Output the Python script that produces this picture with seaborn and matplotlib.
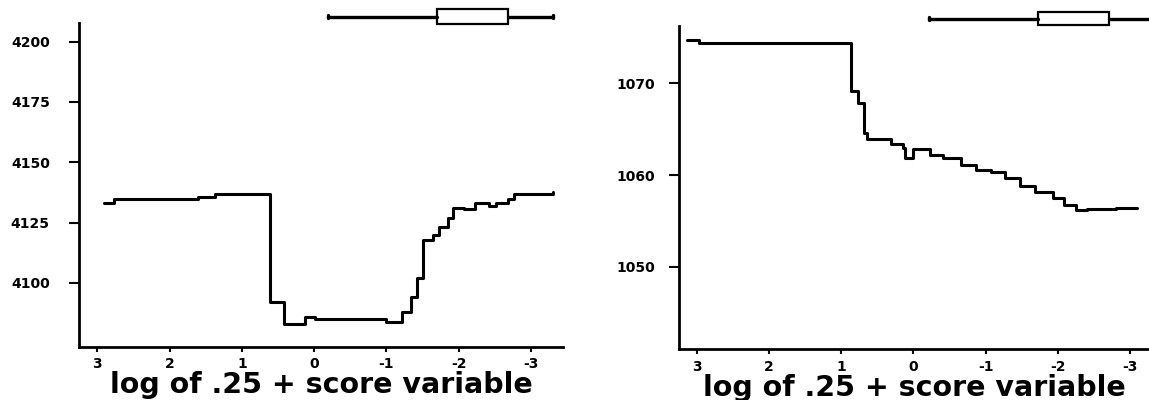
import numpy as np
import pandas as pd
import matplotlib
matplotlib.use("Agg")
import matplotlib.pyplot as plt
import seaborn as sns

# values
# left panel: step curve, x = where each level starts (axis runs 3 -> -3)
left_x = [2.91, 2.77, 1.60, 1.37, 0.61, 0.42, 0.12, -0.01, -1.00, -1.22, -1.34, -1.42,
          -1.50, -1.65, -1.73, -1.85, -1.92, -2.08, -2.22, -2.42, -2.52, -2.68, -2.77, -3.30]
left_y = [4133, 4135, 4135.5, 4137, 4092, 4083, 4086, 4085, 4084, 4088, 4094, 4102,
          4118, 4120, 4123, 4127, 4131, 4130.5, 4133, 4132, 4133, 4135, 4137, 4137.5]
# right panel
right_x = [3.14, 2.97, 0.87, 0.77, 0.69, 0.64, 0.31, 0.15, 0.12, 0.00, -0.23, -0.41,
           -0.66, -0.87, -1.07, -1.27, -1.48, -1.68, -1.94, -2.09, -2.25, -2.40, -2.81, -3.09]
right_y = [1074.7, 1074.4, 1069.2, 1067.9, 1064.6, 1063.9, 1063.4, 1063.0, 1061.9, 1062.8,
           1062.2, 1061.9, 1061.1, 1060.6, 1060.3, 1059.7, 1058.8, 1058.1, 1057.5, 1056.7,
           1056.2, 1056.3, 1056.4, 1056.4]

# boxplot of the score variable on top: whislo, q1, med, q3, whishi
left_box = [-3.31, -2.68, -2.20, -1.70, -0.19]
right_box = [-3.30, -2.71, -2.20, -1.73, -0.21]

x_ticks = [3, 2, 1, 0, -1, -2, -3]
x_tick_labels = ["3", "2", "1", "0", "-1", "-2", "-3"]
left_y_ticks = [4100, 4125, 4150, 4175, 4200]
right_y_ticks = [1050, 1060, 1070]
x_label = "log of .25 + score variable"

sns.set_style("ticks")
plt.rcParams["font.family"] = ["DejaVu Sans"]
plt.rcParams["axes.unicode_minus"] = False
plt.rcParams["text.color"] = "black"
plt.rcParams["axes.labelcolor"] = "black"
plt.rcParams["xtick.color"] = "black"
plt.rcParams["ytick.color"] = "black"

W, H = 1149, 400
fig = plt.figure(figsize=(W / 100, H / 100), dpi=100)


def px_rect(x0, x1, ytop, ybot):
    return [x0 / W, (H - ybot) / H, (x1 - x0) / W, (ybot - ytop) / H]


def panel(rect, box_rect, xs, ys, box, yticks, xlim, ylim, ypad, box_w):
    ax = fig.add_axes(rect)
    sns.lineplot(x=xs, y=ys, ax=ax, color="black", linewidth=2.2,
                 drawstyle="steps-post", sort=False, estimator=None)
    ax.set_xlim(*xlim)
    ax.set_ylim(*ylim)
    ax.set_xticks(x_ticks)
    ax.set_xticklabels(x_tick_labels, fontsize=10, fontweight="bold")
    ax.set_yticks(yticks)
    ax.set_yticklabels([str(t) for t in yticks], fontsize=10, fontweight="bold")
    ax.tick_params(axis="y", length=7, width=1.5, pad=ypad, colors="black")
    ax.tick_params(axis="x", length=3.6, width=1.5, pad=4, colors="black")
    ax.set_xlabel(x_label, fontsize=20.5, fontweight="bold", labelpad=0, color="black")
    ax.set_ylabel("")
    sns.despine(ax=ax)
    for s in ["left", "bottom"]:
        ax.spines[s].set_linewidth(2)
        ax.spines[s].set_color("black")

    bx = fig.add_axes(box_rect)
    stats = [dict(whislo=box[0], q1=box[1], med=box[2], q3=box[3], whishi=box[4])]
    bx.bxp(stats, positions=[0.5], widths=box_w, orientation="horizontal",
           showfliers=False, patch_artist=True, manage_ticks=False, capwidths=0.12,
           boxprops=dict(facecolor="white", edgecolor="black", linewidth=1.6),
           whiskerprops=dict(color="black", linewidth=2.4),
           capprops=dict(color="black", linewidth=2.4),
           medianprops=dict(linewidth=0))
    bx.set_xlim(*xlim)
    bx.set_ylim(0, 1)
    bx.axis("off")
    return ax


panel(px_rect(79, 563, 23.3, 346.7), px_rect(79, 563, 5, 28),
      left_x, left_y, left_box, left_y_ticks,
      (3.253, -3.443), (4073.6, 4207.6), 14, 0.61)
panel(px_rect(679, 1149, 26, 349.3), px_rect(679, 1149, 7, 30),
      right_x, right_y, right_box, right_y_ticks,
      (3.247, -3.263), (1041.0, 1076.25), 10, 0.58)

fig.savefig("out.png", dpi=100, facecolor="white")
